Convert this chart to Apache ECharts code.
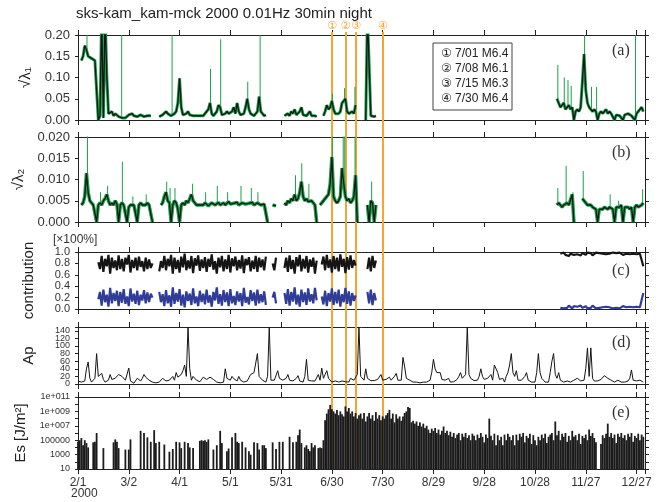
<!DOCTYPE html>
<html>
<head>
<meta charset="utf-8">
<script src="https://cdn.jsdelivr.net/npm/echarts@6/dist/echarts.min.js"></script>
<style>
html, body { margin: 0; padding: 0; background: #fff; }
#chart { width: 664px; height: 502px; }
</style>
</head>
<body>
<div id="chart"></div>
<script>
// x axis: day number counted from 2000-02-01 (0) to 2001-01-01 (335)
var dayTicks = ['2/1', '3/2', '4/1', '5/1', '5/31', '6/30', '7/30', '8/29', '9/28', '10/28', '11/27', '12/27'];

// earthquakes (day, label)
var quakeDays = [150, 158, 164.2, 180];
var quakeMarks = ['①', '②', '③', '④'];
var quakeLegend = ['① 7/01 M6.4', '② 7/08 M6.1', '③ 7/15 M6.3', '④ 7/30 M6.4'];

// sqrt(lambda1), smoothed, one value per day: [first day, values]
var lam1Black = [
    [2, [0.14, 0.15, 0.175, 0.165, 0.15, 0.148, 0.145, 0.142, 0.14, 0.14, 0, 0.01, 0.25, 0.005, 0.25, 0.105, 0.015, 0.012, 0.02, 0.01,
        0.015, 0.012, 0.008, 0.004, 0.005, 0.004, 0.005, 0.006, 0.012, 0.01, 0.015, 0.01, 0.012, 0.008, 0.01, 0.012, 0.01, 0.008, 0.012, 0.01, 0.008, 0.01]],
    [48, [0.008, 0.01, 0.012, 0.015, 0.02, 0.015, 0.012, 0.01, 0.012, 0.015, 0.02, 0.04, 0.098, 0.03, 0.012, 0.01, 0.015, 0.02, 0.012, 0.015,
        0.01, 0.012, 0.01, 0.008, 0.01, 0.012, 0.01, 0.015, 0.02, 0.025, 0.04, 0.015, 0.01, 0.012, 0.02, 0.035, 0.03, 0.012, 0.01, 0.015,
        0.02, 0.015, 0.012, 0.02, 0.03, 0.015, 0.04, 0.02, 0.012, 0.01, 0.015, 0.03, 0.05, 0.025, 0.015, 0.012, 0.01, 0.015, 0.02, 0.055,
        0.02, 0.015, 0.01, 0.012]],
    [122, [0.01, 0.012, 0.015, 0.01, 0.02, 0.015, 0.025, 0.012, 0.015, 0.02, 0.03, 0.012, 0.015, 0.01, 0.012, 0.02, 0.01, 0.008, 0.01, 0.008]],
    [145, [0.01, 0.02, 0.035, 0.025, 0.03, 0.045, 0.025, 0.015, 0.012, 0.015, 0.02, 0.04, 0.045, 0.05, 0.02, 0.015, 0.018, 0.02, 0.015, 0.035]],
    [170, [0, 0.25, 0.25, 0.01, 0.012, 0.008, 0.01]],
    [283, [0.05, 0.04, 0.03, 0.035, 0.04, 0.025, 0.03, 0.035, 0.025, 0.03, 0, 0.02, 0.025, 0.02, 0.03, 0.09, 0.155, 0.07, 0.04, 0.03,
        0.025, 0.02, 0.025, 0.02, 0, 0.015, 0.02, 0.015, 0.02, 0.025, 0.015, 0.02, 0.015, 0.012, 0, 0.012, 0.015, 0.01, 0.012, 0,
        0.012, 0.01, 0.015, 0.012, 0.01, 0.012, 0, 0.015, 0.02, 0.025, 0.03, 0.02]]
];
// raw sqrt(lambda1) spikes (green): [day, value]
var lam1Spikes = [[5.3, 0.2], [25.8, 0.2], [55.6, 0.2], [78.3, 0.12], [84.3, 0.19], [100.3, 0.09], [107.6, 0.2],
    [150.3, 0.062], [157.5, 0.075], [163.6, 0.078], [283.5, 0.13], [287.3, 0.1], [289.5, 0.094], [291.4, 0.08],
    [299.3, 0.2], [303.4, 0.078], [306.4, 0.078], [329.4, 0.2]];

// sqrt(lambda2), smoothed
var lam2Black = [
    [2, [0.004, 0.0045, 0.006, 0.0115, 0.007, 0.005, 0.0045, 0.004, 0.004, 0, 0.004, 0.0045, 0.004, 0.005, 0.0055, 0.0065, 0.005, 0.004, 0.0045, 0.004,
        0.005, 0.0042, 0, 0.004, 0.0045, 0.004, 0.0038, 0, 0.0035, 0.004, 0.0038, 0.004, 0.0036, 0, 0.004, 0.0045, 0.004, 0.0042, 0.004, 0.0045,
        0.004, 0.0038, 0]],
    [49, [0.004, 0.0045, 0.006, 0.007, 0.005, 0.0045, 0, 0.004, 0.005, 0.0045, 0.003, 0, 0.004, 0.0045, 0.004, 0.005, 0.0045, 0.0055, 0.0065, 0.005,
        0.0045, 0.004, 0.0042, 0.004, 0.0042, 0.004, 0.0045, 0.0042, 0.0038, 0.004, 0.0045, 0.0042, 0.004, 0.0044, 0.0046, 0.004, 0.0042, 0.0045, 0.004, 0.0043,
        0.0048, 0.0042, 0.004, 0.0044, 0.0042, 0.0046, 0.004, 0.0042, 0.0045, 0.0048, 0.0042, 0.004, 0.0044, 0.0042, 0.0046, 0.004, 0.0042, 0.0045, 0.0043, 0.004,
        0.0044, 0.0042, 0.004, 0]],
    [115, [0.004, 0.0042, 0.0038]],
    [122, [0.0045, 0.004, 0.005, 0.0045, 0.0055, 0.005, 0.0065, 0.005, 0.0055, 0.007, 0.0095, 0.006, 0.005, 0.0055, 0.0048, 0.0045, 0.005, 0.0045, 0.004, 0]],
    [143, [0.004, 0.0045, 0.005, 0.0055, 0.006, 0.0065, 0.009, 0.0153, 0.006, 0.005, 0.0045, 0.005, 0.006, 0.0127, 0.009, 0.006, 0.005, 0.0055, 0.0045, 0.005,
        0.006, 0.011, 0]],
    [171, [0.004, 0, 0.005, 0.0045, 0, 0.004]],
    [283, [0.004, 0.0045, 0.004, 0.0035, 0.004, 0.0038, 0.0045, 0.004, 0.0042, 0.0065, 0]],
    [298, [0.0055, 0.005, 0.0045, 0.004, 0.0038, 0.004, 0.0035, 0.0038, 0.003, 0, 0.003, 0.0032, 0.003, 0.0035, 0.0032, 0.003, 0.0035, 0.0033, 0.003, 0,
        0.0035, 0.0038, 0.0035, 0.004, 0, 0.0035, 0.0033, 0.0035, 0.003, 0.0035, 0, 0.0035, 0.004, 0.0035, 0.0038, 0.004, 0.0045]]
];
var lam2Spikes = [[5.6, 0.021], [13.3, 0.007], [17.5, 0.0085], [26.2, 0.0142], [32.4, 0.006], [40.3, 0.0065], [52.4, 0.0095],
    [54.4, 0.008], [57.3, 0.008], [67.7, 0.009], [75.4, 0.007], [82.3, 0.0085], [88.4, 0.007], [96.3, 0.0085], [102.4, 0.008],
    [106.3, 0.007], [128.5, 0.011], [132.2, 0.0138], [136.4, 0.009], [150.3, 0.021], [156.7, 0.021], [157.6, 0.021], [163.7, 0.021],
    [173.5, 0.0095], [283.5, 0.008], [288.4, 0.0132], [292.4, 0.007], [298.5, 0.012], [314.4, 0.0065], [319.4, 0.005], [333.6, 0.0077]];

// contribution of lambda1 (black) and lambda2 (blue)
var contribBlack = [
    [12, [0.82, 0.7, 0.93, 0.65, 0.88, 0.75, 0.95, 0.62, 0.9, 0.72, 0.85, 0.68, 0.94, 0.7, 0.88, 0.66, 0.9, 0.78, 0.95, 0.64,
        0.86, 0.72, 0.9, 0.68, 0.92, 0.74, 0.84, 0.66, 0.9, 0.7, 0.87, 0.72, 0.8]],
    [48, [0.66, 0.84, 0.72, 0.93, 0.68, 0.88, 0.75, 0.95, 0.62, 0.9, 0.7, 0.86, 0.64, 0.92, 0.73, 0.97, 0.68, 0.85, 0.71, 0.93,
        0.63, 0.89, 0.76, 0.94, 0.67, 0.87, 0.72, 0.91, 0.65, 0.88, 0.74, 0.96, 0.69, 0.84, 0.62, 0.9, 0.73, 0.93, 0.66, 0.87,
        0.7, 0.95, 0.64, 0.89, 0.75, 0.92, 0.68, 0.86, 0.71, 0.94, 0.63, 0.88, 0.77, 0.91, 0.66, 0.85, 0.7, 0.93, 0.65, 0.9,
        0.73, 0.87, 0.68, 0.92]],
    [115, [0.8, 0.68, 0.9]],
    [122, [0.72, 0.9, 0.65, 0.94, 0.7, 0.86, 0.62, 0.91, 0.75, 0.95, 0.66, 0.88, 0.71, 0.93, 0.64, 0.87, 0.74, 0.9, 0.62, 0.85]],
    [144, [0.78, 0.92, 0.68, 0.95, 0.72, 0.87, 0.64, 0.93, 0.7, 0.9, 0.66, 0.96, 0.74, 0.88, 0.63, 0.91, 0.69, 0.94, 0.72, 0.86, 0.76]],
    [171, [0.7, 0.9, 0.66, 0.93, 0.72, 0.85]],
    [285, [0.97, 0.94, 0.99, 0.95, 0.98, 0.93, 0.97, 0.99, 0.95, 0.98, 0.96, 0.99, 0.94, 0.98, 0.97, 0.95, 0.99, 0.96, 0.98, 0.94,
        0.97, 0.99, 0.96, 0.98, 0.95, 0.97, 0.99, 0.96, 0.98, 0.97, 0.95, 0.99, 0.97, 0.98, 0.96, 0.99, 0.97, 0.95, 0.98, 0.97,
        0.99, 0.96, 0.98, 0.97, 0.99, 0.96, 0.98, 0.97, 0.96, 0.75]]
];
var contribBlue = [
    [12, [0.17, 0.3, 0.06, 0.34, 0.12, 0.25, 0.04, 0.37, 0.1, 0.28, 0.14, 0.32, 0.05, 0.3, 0.11, 0.35, 0.09, 0.22, 0.05, 0.36,
        0.13, 0.27, 0.09, 0.32, 0.07, 0.25, 0.15, 0.33, 0.1, 0.29, 0.12, 0.27, 0.2]],
    [48, [0.3, 0.12, 0.26, 0.05, 0.33, 0.1, 0.24, 0.04, 0.38, 0.09, 0.28, 0.13, 0.35, 0.06, 0.25, 0.03, 0.31, 0.14, 0.27, 0.07,
        0.36, 0.1, 0.22, 0.05, 0.32, 0.12, 0.27, 0.08, 0.34, 0.11, 0.24, 0.04, 0.3, 0.15, 0.38, 0.09, 0.26, 0.06, 0.33, 0.12,
        0.29, 0.05, 0.35, 0.1, 0.23, 0.07, 0.31, 0.13, 0.28, 0.05, 0.37, 0.11, 0.21, 0.08, 0.33, 0.14, 0.29, 0.06, 0.34, 0.1,
        0.26, 0.12, 0.31, 0.07]],
    [115, [0.2, 0.3, 0.1]],
    [122, [0.28, 0.09, 0.35, 0.06, 0.3, 0.13, 0.38, 0.08, 0.25, 0.04, 0.34, 0.12, 0.29, 0.07, 0.36, 0.13, 0.26, 0.1, 0.37, 0.15]],
    [144, [0.22, 0.08, 0.32, 0.05, 0.28, 0.13, 0.36, 0.07, 0.3, 0.1, 0.34, 0.04, 0.26, 0.12, 0.37, 0.09, 0.31, 0.06, 0.28, 0.14, 0.24]],
    [171, [0.3, 0.1, 0.34, 0.07, 0.28, 0.15]],
    [285, [0.02, 0.05, 0.01, 0.04, 0.02, 0.06, 0.03, 0.01, 0.05, 0.02, 0.04, 0.01, 0.06, 0.02, 0.03, 0.05, 0.01, 0.04, 0.02, 0.06,
        0.03, 0.01, 0.04, 0.02, 0.05, 0.03, 0.01, 0.04, 0.02, 0.03, 0.05, 0.01, 0.03, 0.02, 0.04, 0.01, 0.03, 0.05, 0.02, 0.03,
        0.01, 0.04, 0.02, 0.03, 0.01, 0.04, 0.02, 0.03, 0.04, 0.28]]
];

// daily Ap index, day 0..334
var apValues = [
    8, 6, 5, 5, 8, 40, 58, 15, 5, 10, 15, 80, 20, 25, 28, 12, 5, 2, 10, 25,
    12, 8, 15, 18, 25, 22, 20, 18, 10, 15, 42, 8, 3, 2, 4, 15, 10, 8, 15, 25,
    18, 15, 10, 8, 5, 8, 3, 4, 5, 10, 15, 12, 8, 5, 10, 15, 20, 10, 30, 18,
    15, 25, 35, 50, 20, 150, 40, 10, 20, 15, 10, 8, 6, 5, 18, 15, 12, 10, 18, 15,
    12, 10, 5, 5, 3, 4, 5, 40, 15, 12, 10, 20, 14, 12, 8, 20, 10, 6, 5, 10,
    8, 5, 25, 28, 30, 25, 80, 20, 15, 10, 6, 5, 20, 150, 10, 5, 10, 12, 35, 15,
    12, 10, 8, 15, 25, 10, 8, 8, 12, 15, 22, 8, 6, 5, 20, 65, 10, 5, 8, 10,
    8, 10, 25, 10, 42, 15, 25, 35, 15, 10, 5, 5, 8, 8, 5, 6, 8, 5, 6, 8,
    5, 15, 20, 10, 5, 25, 150, 20, 15, 10, 40, 15, 10, 9, 8, 9, 10, 12, 15, 25,
    10, 11, 12, 15, 18, 10, 15, 20, 28, 10, 8, 10, 70, 45, 15, 12, 10, 8, 5, 5,
    5, 4, 3, 4, 5, 5, 5, 6, 10, 30, 65, 40, 30, 25, 30, 12, 11, 10, 12, 15,
    5, 5, 6, 8, 12, 20, 30, 15, 20, 25, 150, 25, 15, 10, 9, 8, 10, 20, 40, 20,
    12, 10, 15, 20, 25, 10, 50, 55, 30, 12, 10, 15, 5, 20, 30, 50, 80, 30, 20, 35,
    10, 8, 10, 15, 20, 30, 10, 8, 5, 10, 5, 30, 80, 30, 15, 10, 5, 6, 5, 30,
    60, 80, 25, 15, 30, 10, 8, 5, 6, 8, 6, 5, 8, 10, 12, 15, 10, 8, 9, 10,
    40, 95, 20, 95, 15, 8, 5, 8, 10, 12, 15, 22, 18, 15, 12, 10, 8, 5, 8, 10,
    8, 5, 5, 5, 6, 8, 15, 37, 10, 9, 8, 9, 10, 8, 5
];

// daily Es [J/m^2], day 0..334 (null = none)
var esValues = [
    6e4, 1e5, 2e5, 2e4, 1e5, 4e4, 1e4, null, null, 5e4, 6e4, 1e6, null, null, null, 8e3, null, null, null, null,
    null, 5e4, 1.3e5, 6e4, 8e3, null, null, null, 5e3, null, 5e3, 1.3e5, null, null, null, null, null, 2e6, null, 1e6,
    null, 2.5e5, null, 6e4, null, 2.5e6, 4e4, null, 6e4, null, null, 2.5e4, null, null, 2.5e3, null, 6e3, null, 6e4, null,
    5e4, 8e3, null, 6e4, null, 4e4, 1e4, null, 8e3, null, null, null, 8e4, 1e5, 8e4, 1e5, 6e4, 1.3e5, null, null,
    5e3, null, 2e4, null, 2e6, 4e4, null, null, 3e3, 7e3, null, 2.5e5, null, 1e6, 6e4, 4e4, null, 6e4, null, 1e4,
    null, 3e3, 1e3, null, 5e4, null, 4e4, 5e3, null, 2e4, 2e4, 8e3, null, null, null, 5e4, null, 6e3, null, 6e4,
    null, 6e4, null, null, null, 3e5, null, 5e4, null, 6e4, 5e5, 3e6, 4e4, null, 1e4, 2e4, 6e3, 3e3, 4e4, 1e4,
    2e4, null, 8e3, 1e4, 8e3, 1e5, 6e7, 5e8, 2e9, 8e9, 2e9, 1e9, 5e8, 1.6e9, 3e8, 1e9, 4e8, 2e8, 5e9, 1e9,
    3e9, 5e8, 1e9, 2e8, 6e8, 1e8, 3e8, 5e8, 1e8, 6e8, 4e7, 2e8, 6e8, 1e8, 3e8, 5e7, 8e8, 1e8, 3e8, 6e7,
    2e8, 1e8, 3e8, 6e8, 1.6e9, 1e8, 5e8, 3e7, 4e8, 1e8, 2e8, 5e7, 2e8, 6e8, 1e9, 4e9, 3e9, 3e7, 5e7, 2e7,
    4e7, 1e7, 3e7, 8e6, 2e7, 5e6, 1e7, 3e6, 1e6, 4e6, 2e6, 5e6, 1e6, 3e6, 6e5, 2e6, 8e6, 1e6, 2e6, 5e5,
    1.5e6, 3e5, 1e6, 2e5, 6e5, 1e6, 1e5, 8e5, 3e5, 1e6, 2e5, 5e5, 1e5, 8e5, 4e5, 1e5, 6e5, 2e5, 1e6, 3e5,
    5e4, 6e5, 2e5, 1e8, 4e5, 1e5, 8e5, 2e4, 5e5, 1e5, 3e5, 2e4, 6e5, 1e5, 8e5, 3e5, 1e5, 5e5, 2e4, 6e5,
    1e5, 8e5, 3e5, 1e6, 5e4, 4e5, 2e5, 8e5, 3e4, 5e5, 1e5, 2e4, 3e5, 1e5, 6e5, 2e5, 8e5, 4e4, 3e5, 6e5,
    1e6, 1e5, 4e7, 5e5, 2e6, 1e5, 8e5, 3e5, 1e6, 6e4, 4e5, 1e5, 2e6, 3e5, 5e5, 1e5, 8e5, 3e4, 4e5, 2e5,
    6e5, 1e5, 3e6, 4e5, 1e6, 2e5, 5e4, null, null, 3e4, 5e5, 2e5, 8e5, 2e7, 3e5, 1e6, 2e5, 6e5, 4e4, 8e5,
    3e5, 1e6, 2e5, 5e5, 1e5, 8e5, 3e5, 1e6, 6e4, 4e5, 2e5, 8e5, 1e5, 6e5, 3e5
];

var FONT = 'Liberation Sans, Arial, Helvetica, DejaVu Sans, sans-serif';
var SERIF = 'Liberation Serif, Times New Roman, DejaVu Serif, serif';
var GREEN = '#19a34a';
var BLACK = '#151515';
var BLUE = '#2f3c98';
var ORANGE = '#f5a535';
var AXIS = '#222';

function blocksToData(blocks) {
    var out = [];
    blocks.forEach(function (b, k) {
        if (k > 0) out.push([b[0] - 0.5, null]);
        b[1].forEach(function (v, i) { out.push([b[0] + i, v]); });
    });
    return out;
}
// thin vertical green spikes rising from the smoothed level of that day
function spikeData(blocks, spikes) {
    var base = {};
    blocks.forEach(function (b) {
        b[1].forEach(function (v, i) { base[b[0] + i] = v; });
    });
    var out = [];
    spikes.forEach(function (s) {
        var b0 = base[Math.round(s[0])] || 0;
        out.push([s[0], b0], [s[0], s[1]], [s[0], null]);
    });
    return out;
}
function dayLabel(v) {
    var k = v / 30;
    return (k === Math.floor(k) && k < dayTicks.length) ? dayTicks[k] : '';
}
function esLabel(v) {
    var e = Math.round(Math.log(v) / Math.LN10);
    if (e % 2 === 0) return '';
    return e <= 5 ? String(Math.round(v)) : '1e+' + ('00' + e).slice(-3);
}

var grids = [
    { top: 35, height: 85 },
    { top: 137, height: 85 },
    { top: 252, height: 57 },
    { top: 327, height: 57 },
    { top: 397, height: 72 }
];
var yCfg = [
    { type: 'value', min: 0, max: 0.2, interval: 0.05, fmt: function (v) { return v.toFixed(2); }, size: 13, name: '√λ₁' },
    { type: 'value', min: 0, max: 0.02, interval: 0.005, fmt: function (v) { return v.toFixed(3); }, size: 13, name: '√λ₂' },
    { type: 'value', min: 0, max: 1, interval: 0.2, fmt: function (v) { return v.toFixed(1); }, size: 11, name: 'contribution' },
    // the 0 label of Ap is drawn by a second axis (below), so the tight labels do not hide each other
    { type: 'value', min: 0, max: 150, interval: 20, fmt: function (v) { return (v > 140 || v === 0) ? '' : String(v); }, size: 9, name: 'Ap' },
    { type: 'log', min: 10, max: 1e11, interval: 1, fmt: esLabel, size: 9, name: 'Es [J/m²]' }
];

var gridList = [], xAxes = [], yAxes = [];
grids.forEach(function (g, i) {
    gridList.push({ left: 78, right: 19, top: g.top, height: g.height });
    ['bottom', 'top'].forEach(function (pos) {
        xAxes.push({
            gridIndex: i, type: 'value', min: 0, max: 335, interval: 30, position: pos,
            axisLine: { show: true, onZero: false, lineStyle: { color: AXIS, width: 1 } },
            axisTick: { show: true, length: 5, lineStyle: { color: AXIS } },
            axisLabel: { show: pos === 'bottom' && i === 4, formatter: dayLabel, fontSize: 12, color: '#333', margin: 8, fontFamily: FONT, showMinLabel: true },
            splitLine: { show: false }
        });
    });
    var c = yCfg[i];
    ['left', 'right'].forEach(function (pos) {
        var ax = {
            gridIndex: i, type: c.type, min: c.min, max: c.max, interval: c.interval, position: pos,
            axisLine: { show: true, onZero: false, lineStyle: { color: AXIS, width: 1 } },
            axisTick: { show: true, length: pos === 'left' ? 3 : 4, lineStyle: { color: AXIS } },
            axisLabel: {
                show: pos === 'left', formatter: c.fmt, fontSize: c.size, color: '#333', margin: 8, fontFamily: FONT,
                hideOverlap: false, interval: 0, showMinLabel: true, showMaxLabel: true
            },
            splitLine: { show: false }
        };
        if (c.type === 'log') ax.logBase = 10;
        if (pos === 'left') {
            ax.name = c.name;
            ax.nameLocation = 'middle';
            ax.nameGap = 42;
            ax.nameTextStyle = { fontSize: 15, color: '#222', fontFamily: FONT };
        }
        yAxes.push(ax);
    });
});
// overlay grid for the earthquake lines
gridList.push({ left: 78, right: 19, top: 32, bottom: 33 });
xAxes.push({ gridIndex: 5, type: 'value', min: 0, max: 335, show: false });
yAxes.push({ gridIndex: 5, type: 'value', min: 0, max: 1, show: false });
// Ap "0" label
yAxes.push({
    gridIndex: 3, type: 'value', min: 0, max: 150, interval: 20, position: 'left',
    axisLine: { show: false }, axisTick: { show: false }, splitLine: { show: false },
    axisLabel: { formatter: function (v) { return v === 0 ? '0' : ''; }, fontSize: 9, color: '#333', margin: 8, fontFamily: FONT, showMinLabel: true }
});

function lineSeries(idx, data, color, width, z) {
    return {
        type: 'line', xAxisIndex: idx, yAxisIndex: idx, data: data, showSymbol: false, symbol: 'none',
        lineStyle: { color: color, width: width }, z: z, animation: false
    };
}

var lam1 = blocksToData(lam1Black);
var lam2 = blocksToData(lam2Black);

var series = [
    lineSeries(0, lam1, GREEN, 3, 2),
    lineSeries(0, spikeData(lam1Black, lam1Spikes), GREEN, 1, 2),
    lineSeries(0, lam1, BLACK, 1.3, 3),
    lineSeries(2, lam2, GREEN, 3.5, 2),
    lineSeries(2, spikeData(lam2Black, lam2Spikes), GREEN, 1, 2),
    lineSeries(2, lam2, BLACK, 1.3, 3),
    lineSeries(4, blocksToData(contribBlack), BLACK, 2.2, 3),
    lineSeries(4, blocksToData(contribBlue), BLUE, 2.2, 3),
    lineSeries(6, apValues.map(function (v, i) { return [i, v]; }), BLACK, 1, 3),
    {
        type: 'bar', xAxisIndex: 8, yAxisIndex: 8, barWidth: 1.8, z: 3, animation: false,
        itemStyle: { color: '#1c1c1c' },
        data: esValues.map(function (v, i) { return v == null ? null : [i, v]; }).filter(Boolean)
    },
    {
        type: 'line', xAxisIndex: 10, yAxisIndex: 10, data: [], z: 1, animation: false,
        markLine: {
            silent: true, symbol: 'none', z: 1, animation: false,
            lineStyle: { color: ORANGE, width: 2, type: 'solid' },
            label: {
                show: true, position: 'end', distance: 0, color: ORANGE, fontSize: 11,
                fontFamily: 'DejaVu Sans, Noto Sans CJK JP, sans-serif',
                formatter: function (p) { return quakeMarks[p.dataIndex]; }
            },
            data: quakeDays.map(function (d) { return { xAxis: d }; })
        }
    }
];

var graphics = [
    { type: 'text', x: 76, y: 14, style: { text: 'sks-kam_kam-mck 2000 0.01Hz 30min night', fontSize: 15, fontFamily: FONT, fill: '#222', verticalAlign: 'middle' } },
    { type: 'rect', shape: { x: 433, y: 43, width: 79, height: 67 }, style: { fill: '#fff', stroke: '#444', lineWidth: 1 }, z: 10 },
    { type: 'text', x: 53, y: 240, style: { text: '[×100%]', fontSize: 12, fontFamily: FONT, fill: '#333', verticalAlign: 'middle' } },
    { type: 'text', x: 71, y: 494, style: { text: '2000', fontSize: 12, fontFamily: FONT, fill: '#333', verticalAlign: 'middle' } }
];
quakeLegend.forEach(function (t, i) {
    graphics.push({ type: 'text', x: 441, y: 54 + i * 15, z: 11, style: { text: t, fontSize: 12, fontFamily: 'Liberation Sans, DejaVu Sans, sans-serif', fill: '#222', verticalAlign: 'middle' } });
});
['(a)', '(b)', '(c)', '(d)', '(e)'].forEach(function (t, i) {
    var ys = [51, 153, 271, 343, 413];
    graphics.push({ type: 'text', x: 612, y: ys[i], z: 11, style: { text: t, fontSize: 16, fontFamily: SERIF, fill: '#333', verticalAlign: 'middle' } });
});

var myChart = echarts.init(document.getElementById('chart'));
myChart.setOption({
    animation: false,
    backgroundColor: '#fff',
    grid: gridList,
    xAxis: xAxes,
    yAxis: yAxes,
    series: series,
    graphic: graphics
});
</script>
</body>
</html>
